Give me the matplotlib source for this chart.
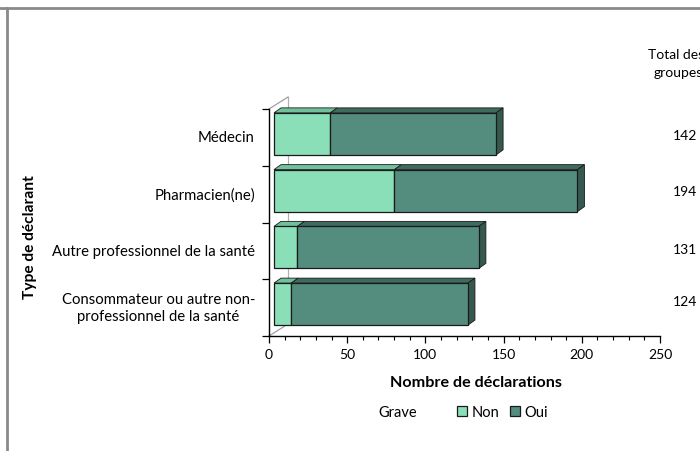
import numpy as np
import matplotlib
matplotlib.use("Agg")
import matplotlib.pyplot as plt
from matplotlib.patches import Polygon
from matplotlib.transforms import ScaledTranslation
from matplotlib.ticker import MultipleLocator

plt.rcParams["font.family"] = ["Lato", "DejaVu Sans"]

# Déclarations par type de déclarant, selon la gravité
categories = ["Médecin", "Pharmacien(ne)", "Autre professionnel de la santé",
              "Consommateur ou autre non-\nprofessionnel de la santé"]
non_grave = [36, 77, 15, 11]
oui_grave = [106, 117, 116, 113]
totals = [142, 194, 131, 124]

col_non, col_non_top = "#8ADFB8", "#6FC09B"
col_oui, col_oui_top, col_oui_side = "#548C7E", "#3F6B5F", "#36594F"
edge = "#1a1a1a"

W, H, DPI = 700, 452, 100
fig = plt.figure(figsize=(W / DPI, H / DPI), dpi=DPI)
ax = fig.add_axes([269 / W, 1 - 337 / H, (660 - 269) / W, (337 - 110) / H])

n = len(categories)
ypos = np.arange(n)[::-1]  # Médecin en haut
ax.set_xlim(0, 250)
ax.set_ylim(-0.5, n - 0.5)

# décalage de la face avant et profondeur des barres (effet 3D)
shift = ax.transData + ScaledTranslation(5 / DPI, 3.5 / DPI, fig.dpi_scale_trans)
px_x = 391 / 250
px_y = 227 / n
dx, dy = 7 / px_x, 5 / px_y
h = 0.74

# mur du fond
wall = ax.transData + ScaledTranslation(19 / DPI, 12 / DPI, fig.dpi_scale_trans)
ax.plot([0, 0], [-0.5, n - 0.5], color="#b0b0b0", lw=0.9, transform=wall,
        clip_on=False, zorder=0.5)
for yy in (-0.5, n - 0.5):
    ax.plot([0, 19 / px_x], [yy, yy + 12 / px_y], color="#a0a0a0", lw=0.9,
            clip_on=False, zorder=0.5)

for y, a, b in zip(ypos, non_grave, oui_grave):
    top = y + h / 2
    for x0, x1, c in ((0, a, col_non_top), (a, a + b, col_oui_top)):
        ax.add_patch(Polygon([(x0, top), (x1, top), (x1 + dx, top + dy), (x0 + dx, top + dy)],
                             closed=True, fc=c, ec=edge, lw=0.6, transform=shift,
                             clip_on=False, zorder=2))
    x1 = a + b
    ax.add_patch(Polygon([(x1, y - h / 2), (x1, top), (x1 + dx, top + dy), (x1 + dx, y - h / 2 + dy)],
                         closed=True, fc=col_oui_side, ec=edge, lw=0.6, transform=shift,
                         clip_on=False, zorder=2))

ax.barh(ypos, non_grave, height=h, color=col_non, edgecolor=edge, lw=0.9,
        transform=shift, clip_on=False, zorder=3, label="Non")
ax.barh(ypos, oui_grave, left=non_grave, height=h, color=col_oui, edgecolor=edge,
        lw=0.9, transform=shift, clip_on=False, zorder=3, label="Oui")

for s in ("top", "right"):
    ax.spines[s].set_visible(False)
for s in ("left", "bottom"):
    ax.spines[s].set_linewidth(1.0)

ax.xaxis.set_major_locator(MultipleLocator(50))
ax.xaxis.set_minor_locator(MultipleLocator(10))
ax.tick_params(axis="x", which="major", length=5, width=0.9, labelsize=10, pad=4)
ax.tick_params(axis="x", which="minor", length=3, width=0.8)
ax.set_yticks(np.arange(-0.5, n, 1.0))
ax.set_yticklabels([])
ax.tick_params(axis="y", length=5, width=0.9)
for y, lab in zip(ypos, categories):
    ax.text(-9, y, lab, ha="right", va="center", fontsize=10.7,
            multialignment="center", linespacing=1.3, clip_on=False)

fig.text(476 / W, 1 - 383 / H, "Nombre de déclarations", ha="center", va="center",
         fontsize=11.6, fontweight="bold")
fig.text(30 / W, 1 - 237 / H, "Type de déclarant", ha="center", va="center",
         rotation=90, fontsize=11.2, fontweight="bold")

# colonne des totaux
fig.text(676 / W, 1 - 55 / H, "Total des", ha="center", va="center", fontsize=10)
fig.text(678 / W, 1 - 73 / H, "groupes", ha="center", va="center", fontsize=10)
for yy, t in zip([136, 192, 250, 302], totals):
    fig.text(697 / W, 1 - yy / H, str(t), ha="right", va="center", fontsize=10)

# légende
fig.text(378 / W, 1 - 413 / H, "Grave", ha="left", va="center", fontsize=10.5)
leg = fig.legend(loc="center left", bbox_to_anchor=(457 / W, 1 - 413 / H), ncol=2,
                 frameon=False, fontsize=10.5, handlelength=0.7, handleheight=0.7,
                 handletextpad=0.3, columnspacing=0.7, borderaxespad=0, borderpad=0)

# cadre gris
fig.add_artist(plt.Line2D([0, 1], [1 - 9 / H, 1 - 9 / H], color="#8a8a8a", lw=2,
                          transform=fig.transFigure))
fig.add_artist(plt.Line2D([7 / W, 7 / W], [0, 1 - 9 / H], color="#8a8a8a", lw=2,
                          transform=fig.transFigure))

fig.savefig("out.png", dpi=DPI)
